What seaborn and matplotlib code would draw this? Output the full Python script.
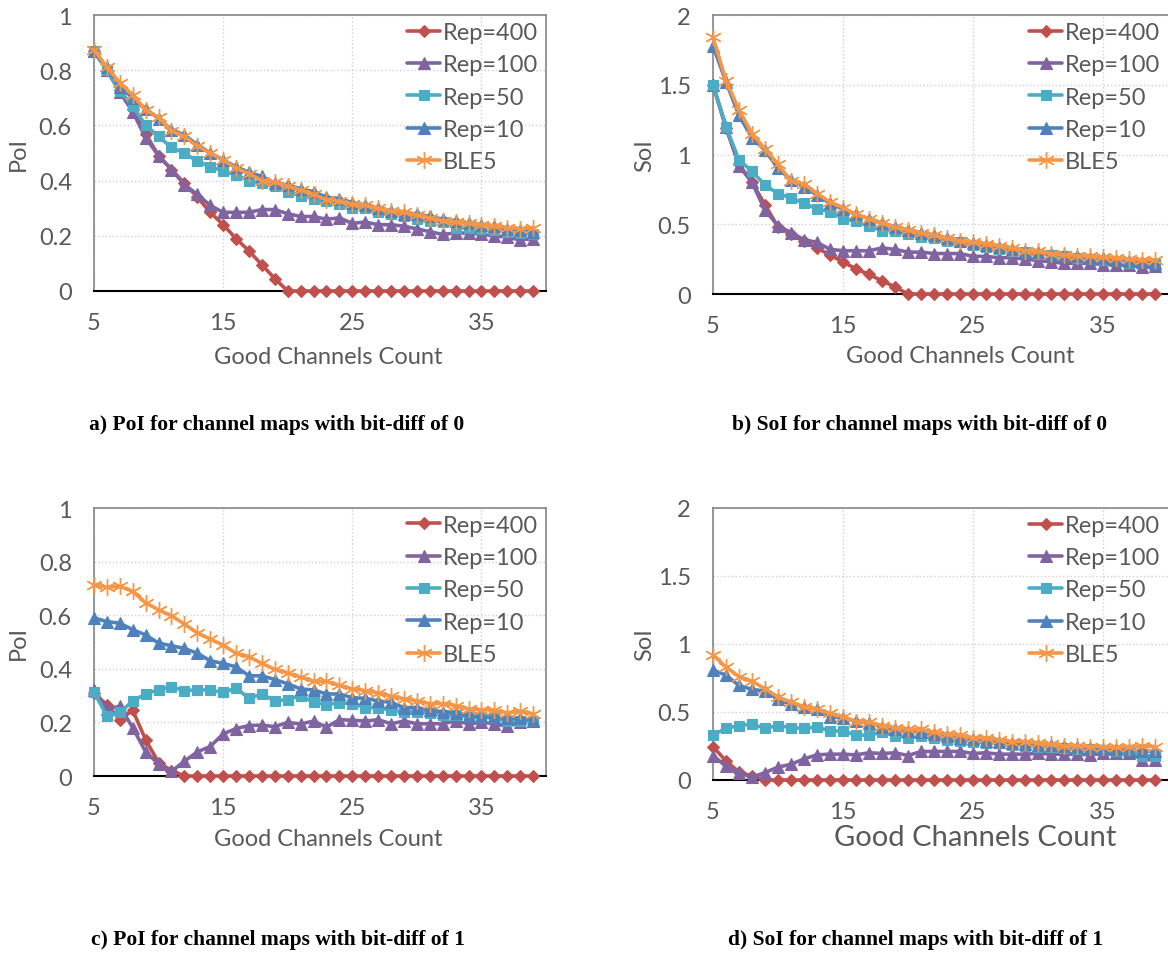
import matplotlib
matplotlib.use("Agg")
import matplotlib.pyplot as plt
import seaborn as sns
import numpy as np
import pandas as pd

sns.set_theme(style="white")
plt.rcParams['font.family'] = ['Lato', 'DejaVu Sans']

# ---------------- data ----------------
good_channels = list(range(5, 40))
series_names = ["Rep=400", "Rep=100", "Rep=50", "Rep=10", "BLE5"]

# a) PoI, bit-diff 0
a_rep400 = [0.87, 0.80, 0.73, 0.66, 0.57, 0.49, 0.44, 0.39, 0.34, 0.285, 0.24, 0.19, 0.145, 0.095, 0.045,
            0, 0, 0, 0, 0, 0, 0, 0, 0, 0, 0, 0, 0, 0, 0, 0, 0, 0, 0, 0]
a_rep100 = [0.87, 0.80, 0.72, 0.65, 0.555, 0.49, 0.44, 0.385, 0.35, 0.31, 0.285, 0.285, 0.285, 0.295, 0.295,
            0.28, 0.27, 0.27, 0.26, 0.265, 0.245, 0.25, 0.24, 0.24, 0.235, 0.225, 0.215, 0.205, 0.21, 0.21,
            0.205, 0.20, 0.195, 0.185, 0.19]
a_rep50 = [0.87, 0.80, 0.725, 0.67, 0.60, 0.56, 0.52, 0.50, 0.47, 0.45, 0.435, 0.42, 0.40, 0.39, 0.38,
           0.36, 0.345, 0.335, 0.325, 0.315, 0.30, 0.30, 0.285, 0.28, 0.27, 0.26, 0.255, 0.25, 0.23, 0.23,
           0.225, 0.22, 0.215, 0.21, 0.205]
a_rep10 = [0.87, 0.81, 0.74, 0.70, 0.66, 0.625, 0.585, 0.565, 0.53, 0.50, 0.475, 0.45, 0.43, 0.415, 0.39,
           0.385, 0.37, 0.36, 0.34, 0.335, 0.32, 0.31, 0.30, 0.29, 0.28, 0.28, 0.27, 0.26, 0.255, 0.245,
           0.24, 0.235, 0.225, 0.22, 0.215]
a_ble5 = [0.875, 0.81, 0.755, 0.71, 0.655, 0.63, 0.58, 0.56, 0.525, 0.50, 0.475, 0.445, 0.425, 0.40, 0.395,
          0.38, 0.365, 0.35, 0.33, 0.325, 0.315, 0.31, 0.30, 0.29, 0.285, 0.275, 0.265, 0.255, 0.25, 0.245,
          0.24, 0.235, 0.23, 0.225, 0.23]

# b) SoI, bit-diff 0
b_rep400 = [1.50, 1.19, 0.93, 0.80, 0.64, 0.48, 0.43, 0.38, 0.33, 0.28, 0.23, 0.18, 0.14, 0.095, 0.05,
            0, 0, 0, 0, 0, 0, 0, 0, 0, 0, 0, 0, 0, 0, 0, 0, 0, 0, 0, 0]
b_rep100 = [1.50, 1.20, 0.92, 0.80, 0.60, 0.49, 0.44, 0.39, 0.37, 0.32, 0.31, 0.31, 0.31, 0.33, 0.32,
            0.30, 0.30, 0.29, 0.29, 0.29, 0.27, 0.27, 0.26, 0.26, 0.25, 0.24, 0.23, 0.22, 0.22, 0.22,
            0.21, 0.21, 0.205, 0.195, 0.20]
b_rep50 = [1.50, 1.20, 0.96, 0.88, 0.78, 0.72, 0.69, 0.65, 0.61, 0.59, 0.54, 0.52, 0.49, 0.455, 0.455,
           0.43, 0.41, 0.40, 0.38, 0.37, 0.35, 0.34, 0.32, 0.31, 0.30, 0.29, 0.28, 0.27, 0.26, 0.25,
           0.245, 0.235, 0.225, 0.22, 0.215]
b_rep10 = [1.78, 1.52, 1.28, 1.12, 1.03, 0.90, 0.82, 0.77, 0.71, 0.65, 0.61, 0.57, 0.54, 0.51, 0.48,
           0.46, 0.44, 0.42, 0.40, 0.38, 0.365, 0.35, 0.335, 0.32, 0.31, 0.30, 0.29, 0.28, 0.27, 0.26,
           0.255, 0.245, 0.235, 0.23, 0.225]
b_ble5 = [1.84, 1.53, 1.32, 1.15, 1.04, 0.93, 0.81, 0.79, 0.72, 0.66, 0.62, 0.57, 0.54, 0.51, 0.48,
          0.46, 0.44, 0.42, 0.40, 0.38, 0.37, 0.36, 0.345, 0.33, 0.31, 0.305, 0.29, 0.28, 0.275, 0.27,
          0.265, 0.26, 0.25, 0.245, 0.245]

# c) PoI, bit-diff 1
c_rep400 = [0.31, 0.265, 0.21, 0.245, 0.135, 0.05, 0.02,
            0, 0, 0, 0, 0, 0, 0, 0, 0, 0, 0, 0, 0, 0, 0, 0, 0, 0, 0, 0, 0, 0, 0, 0, 0, 0, 0, 0]
c_rep100 = [0.32, 0.25, 0.26, 0.18, 0.09, 0.045, 0.017, 0.055, 0.09, 0.11, 0.157, 0.177, 0.188, 0.19, 0.184,
            0.20, 0.194, 0.205, 0.182, 0.21, 0.208, 0.205, 0.21, 0.195, 0.205, 0.195, 0.195, 0.195, 0.205, 0.195,
            0.20, 0.195, 0.185, 0.20, 0.205]
c_rep50 = [0.312, 0.225, 0.237, 0.28, 0.306, 0.322, 0.333, 0.318, 0.322, 0.32, 0.312, 0.328, 0.29, 0.306, 0.28,
           0.285, 0.30, 0.275, 0.266, 0.274, 0.27, 0.255, 0.255, 0.245, 0.24, 0.24, 0.236, 0.228, 0.226, 0.22,
           0.22, 0.216, 0.204, 0.205, 0.205]
c_rep10 = [0.59, 0.576, 0.57, 0.546, 0.526, 0.496, 0.486, 0.476, 0.458, 0.43, 0.42, 0.407, 0.374, 0.374, 0.36,
           0.344, 0.325, 0.321, 0.306, 0.306, 0.292, 0.29, 0.28, 0.275, 0.255, 0.255, 0.245, 0.24, 0.235, 0.225,
           0.22, 0.22, 0.215, 0.215, 0.21]
c_ble5 = [0.713, 0.704, 0.708, 0.689, 0.646, 0.62, 0.598, 0.567, 0.534, 0.511, 0.488, 0.458, 0.445, 0.42, 0.398,
          0.385, 0.369, 0.354, 0.353, 0.338, 0.325, 0.319, 0.31, 0.298, 0.288, 0.28, 0.27, 0.27, 0.263, 0.25,
          0.248, 0.245, 0.236, 0.241, 0.232]

# d) SoI, bit-diff 1
d_rep400 = [0.245, 0.14, 0.058, 0.03,
            0, 0, 0, 0, 0, 0, 0, 0, 0, 0, 0, 0, 0, 0, 0, 0, 0, 0, 0, 0, 0, 0, 0, 0, 0, 0, 0, 0, 0, 0, 0]
d_rep100 = [0.18, 0.10, 0.055, 0.02, 0.055, 0.095, 0.115, 0.155, 0.185, 0.19, 0.19, 0.185, 0.20, 0.195, 0.20,
            0.18, 0.21, 0.21, 0.21, 0.21, 0.195, 0.20, 0.19, 0.19, 0.19, 0.195, 0.19, 0.19, 0.19, 0.185,
            0.195, 0.20, 0.20, 0.15, 0.15]
d_rep50 = [0.33, 0.38, 0.40, 0.41, 0.38, 0.40, 0.385, 0.38, 0.39, 0.36, 0.36, 0.33, 0.33, 0.35, 0.325,
           0.31, 0.32, 0.31, 0.295, 0.29, 0.28, 0.275, 0.27, 0.26, 0.25, 0.245, 0.24, 0.235, 0.23, 0.225,
           0.22, 0.215, 0.21, 0.178, 0.178]
d_rep10 = [0.81, 0.77, 0.695, 0.666, 0.654, 0.593, 0.556, 0.54, 0.52, 0.466, 0.454, 0.434, 0.42, 0.393, 0.373,
           0.36, 0.35, 0.335, 0.32, 0.31, 0.30, 0.29, 0.28, 0.275, 0.265, 0.26, 0.255, 0.25, 0.24, 0.235,
           0.23, 0.225, 0.22, 0.215, 0.21]
d_ble5 = [0.92, 0.83, 0.76, 0.727, 0.67, 0.61, 0.573, 0.54, 0.52, 0.49, 0.466, 0.43, 0.427, 0.40, 0.385,
          0.373, 0.373, 0.35, 0.336, 0.33, 0.31, 0.31, 0.295, 0.283, 0.283, 0.27, 0.263, 0.25, 0.25, 0.246,
          0.246, 0.24, 0.246, 0.25, 0.246]

panel_data = {
    "a": [a_rep400, a_rep100, a_rep50, a_rep10, a_ble5],
    "b": [b_rep400, b_rep100, b_rep50, b_rep10, b_ble5],
    "c": [c_rep400, c_rep100, c_rep50, c_rep10, c_ble5],
    "d": [d_rep400, d_rep100, d_rep50, d_rep10, d_ble5],
}
captions = {
    "a": "a) PoI for channel maps with bit-diff of 0",
    "b": "b) SoI for channel maps with bit-diff of 0",
    "c": "c) PoI for channel maps with bit-diff of 1",
    "d": "d) SoI for channel maps with bit-diff of 1",
}
ylabels = {"a": "PoI", "b": "SoI", "c": "PoI", "d": "SoI"}
xlabel_text = "Good Channels Count"
x_major = [5, 15, 25, 35]
x_minor = [10, 20, 30, 40]
y_ticks_poi = [0, 0.2, 0.4, 0.6, 0.8, 1]
y_ticks_soi = [0, 0.5, 1, 1.5, 2]

# ---------------- styles ----------------
colors = ["#C0504D", "#8064A2", "#4BACC6", "#4F81BD", "#F79646"]
markers = ["D", "^", "s", "^", (6, 2, 0)]
msizes = [6.5, 8, 7, 8, 12]
W, H = 1168, 954
fig = plt.figure(figsize=(W / 100, H / 100), dpi=100)

def frac(l, t, r, b):
    return [l / W, 1 - b / H, (r - l) / W, (b - t) / H]

axes_pos = {
    "a": frac(94, 16, 546, 292),
    "b": frac(713, 16, 1168, 295),
    "c": frac(94, 509, 546, 777),
    "d": frac(713, 509, 1168, 781),
}
tick_color = "#595959"
grid_color = "#D0D0D0"
FS = 17

for key in ["a", "b", "c", "d"]:
    ax = fig.add_axes(axes_pos[key])
    for name, vals, c, m, ms in zip(series_names, panel_data[key], colors, markers, msizes):
        is_star = name == "BLE5"
        sns.lineplot(x=good_channels, y=vals, ax=ax, color=c, marker=m, markersize=ms,
                     markeredgecolor=c, markeredgewidth=1.0 if is_star else 0.8,
                     linewidth=2.6, label=name, clip_on=False, zorder=3)
    poi = key in ("a", "c")
    ax.set_xlim(5, 40)
    if poi:
        ax.set_ylim(0, 1)
        ax.set_yticks(y_ticks_poi)
        ax.set_yticklabels(["0", "0.2", "0.4", "0.6", "0.8", "1"])
    else:
        ax.set_ylim(0, 2)
        ax.set_yticks(y_ticks_soi)
        ax.set_yticklabels(["0", "0.5", "1", "1.5", "2"])
    ax.set_xticks(x_major)
    ax.set_xticklabels([str(v) for v in x_major])
    ax.set_xticks(x_minor, minor=True)
    ax.grid(True, which="major", color=grid_color, linestyle=":", linewidth=1.0, zorder=0)
    ax.set_axisbelow(True)
    ax.tick_params(axis="both", which="both", direction="in", colors="#404040",
                   labelcolor=tick_color, labelsize=FS)
    ax.tick_params(axis="x", which="both", length=6, width=1.2, pad=15, color="black")
    ax.tick_params(axis="y", which="both", length=6, width=1.0, pad=16, color="#868686")
    for s in ["top", "right", "left"]:
        ax.spines[s].set_color("#868686")
        ax.spines[s].set_linewidth(1.2)
    ax.spines["bottom"].set_color("black")
    ax.spines["bottom"].set_linewidth(1.5)
    if key in ("b", "d"):
        ax.spines["right"].set_visible(False)
    ax.set_xlabel("")
    ax.set_ylabel("")
    # axis titles
    ylab_x = -0.168 if poi else -0.149
    ax.text(ylab_x, 0.5, ylabels[key], transform=ax.transAxes, rotation=90,
            ha="center", va="center", fontsize=FS, color=tick_color)
    if key == "d":
        ax.text(0.576, -0.21, xlabel_text, transform=ax.transAxes, ha="center", va="center",
                fontsize=21, color=tick_color)
    else:
        xl = {"a": (0.518, -0.239), "b": (0.543, -0.219), "c": (0.518, -0.235)}[key]
        ax.text(xl[0], xl[1], xlabel_text, transform=ax.transAxes, ha="center", va="center",
                fontsize=FS, color=tick_color)
    leg = ax.legend(loc="upper right", bbox_to_anchor=(0.982, 0.975), frameon=False,
                    fontsize=FS, handlelength=1.4, handletextpad=0.1, labelspacing=0.48,
                    borderaxespad=0.0, borderpad=0.0)
    for t in leg.get_texts():
        t.set_color(tick_color)

cap_pos = {"a": (277, 425), "b": (920, 425), "c": (278, 940), "d": (916, 940)}
for key, (px, py) in cap_pos.items():
    fig.text(px / W, 1 - py / H, captions[key], ha="center", va="center",
             fontsize=15.5, fontweight="bold", family="Liberation Serif", color="black")

fig.savefig("out.png", dpi=100)
